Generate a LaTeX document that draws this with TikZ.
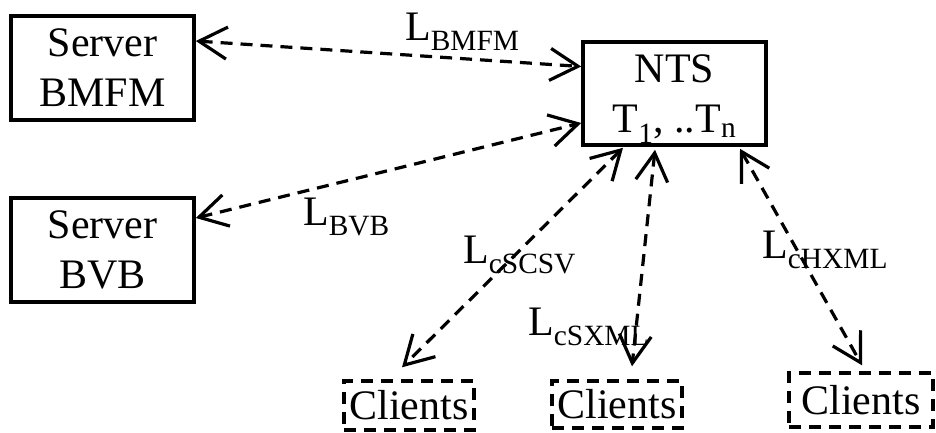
\documentclass[tikz,border=0pt]{standalone}
\usepackage{fontspec}
\setmainfont{Liberation Serif}
\usetikzlibrary{arrows.meta}
\tikzset{
	box/.style={draw, line width=3.6pt, inner sep=0pt, minimum width=183pt, minimum height=104pt, align=center},
	clientbox/.style={draw, line width=3.4pt, dash pattern=on 12pt off 8pt, inner sep=0pt},
	conn/.style={line width=3.2pt, dash pattern=on 12pt off 8pt, line cap=butt,
		{Straight Barb[length=28pt,width=32pt]}-{Straight Barb[length=28pt,width=32pt]}},
	lbl/.style={anchor=base west, inner sep=0pt}
}

\begin{document}
\begin{tikzpicture}[x=1pt,y=-1pt,every node/.style={font=\fontsize{42}{50}\selectfont}]
		\useasboundingbox (0,0) rectangle (936,432);
		% servers and the time server
		\node[box] (bmfm) at (102.5,68) {Server\\BMFM};
		\node[box] (bvb)  at (102.5,250) {Server\\BVB};
		\node[box, minimum height=103pt, text depth=0pt] (nts) at (674.5,93.5) {NTS\\T\textsubscript{1}, ..T\textsubscript{n}};
		% clients
		\node[clientbox, minimum width=130pt, minimum height=49pt] (cla) at (409,405.5) {Clients};
		\node[clientbox, minimum width=130pt, minimum height=47pt] (clb) at (617,404.5) {Clients};
		\node[clientbox, minimum width=144pt, minimum height=54pt] (clc) at (861,400) {Clients};
		% links
		\draw[conn] ([yshift=27pt]bmfm.east) -- ([yshift=27pt]nts.west);
		\draw[conn] ([yshift=32pt]bvb.east) -- ([yshift=-29.5pt]nts.west);
		\foreach\cl/\sx/\sy/\ex/\ey in {cla/-51.5/-1/-7/12, clb/-19.5/-3/15/13, clc/65.5/-2/1/6}
		{
			\draw[conn] ([xshift=\sx pt,yshift=\sy pt]nts.south) -- ([xshift=\ex pt,yshift=\ey pt]\cl.north);
		}
		% labels
		\node[lbl] (lbmfm)  at (405,40)  {L\textsubscript{BMFM}};
		\node[lbl] (lbvb)   at (303,225) {L\textsubscript{BVB}};
		\node[lbl] (lcscsv) at (463,263) {L\textsubscript{cSCSV}};
		\node[lbl] (lcsxml) at (528,335) {L\textsubscript{cSXML}};
		\node[lbl] (lchxml) at (762,258) {L\textsubscript{cHXML}};
	\end{tikzpicture}
\end{document}
